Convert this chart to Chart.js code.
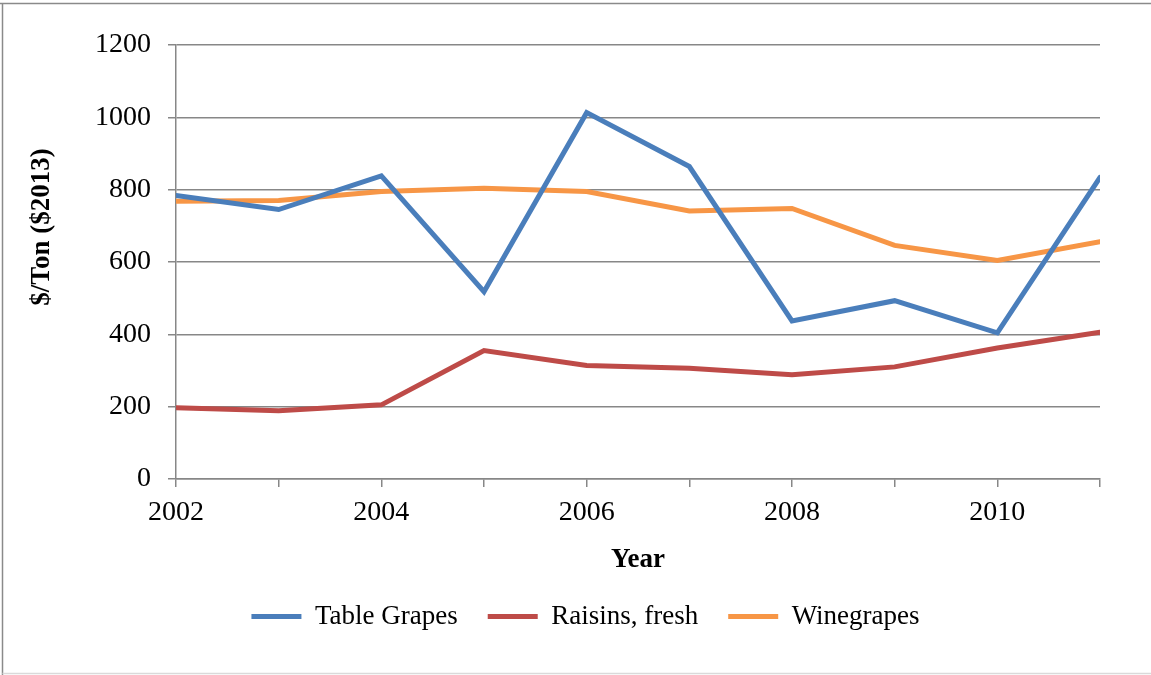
<!DOCTYPE html>
<html>
<head>
<meta charset="utf-8">
<script src="https://cdn.jsdelivr.net/npm/chart.js@4/dist/chart.umd.min.js"></script>
<style>
  html, body { margin: 0; padding: 0; background: #ffffff; }
  #wrap { width: 1151px; height: 675px; position: relative; }
</style>
</head>
<body>
<div id="wrap"><canvas id="c" width="1151" height="675"></canvas></div>
<script>
const years = [2002, 2003, 2004, 2005, 2006, 2007, 2008, 2009, 2010, 2011];
const tableGrapes = [784, 745, 838, 518, 1013, 864, 437, 493, 404, 834];
const raisinsFresh = [197, 189, 205, 355, 314, 306, 288, 310, 362, 406];
const winegrapes = [768, 770, 795, 804, 795, 741, 748, 646, 604, 656];
const seriesNames = ['Table Grapes', 'Raisins, fresh', 'Winegrapes'];
const yTicks = [0, 200, 400, 600, 800, 1000, 1200];
const xLabelYears = [2002, 2004, 2006, 2008, 2010];
const xTitle = 'Year';
const yTitle = '$/Ton ($2013)';

const colors = ['#4A7EBB', '#BE4B48', '#F79646'];
const gridGray = '#878787';
const serif = '"Liberation Serif", "DejaVu Serif", serif';

function pts(vals) { return years.map((y, i) => ({ x: y, y: vals[i] })); }

const framePlugin = {
  id: 'frame',
  beforeDraw(chart) {
    const ctx = chart.ctx;
    ctx.save();
    ctx.fillStyle = '#ffffff';
    ctx.fillRect(0, 0, chart.width, chart.height);
    ctx.lineWidth = 1.5;
    ctx.strokeStyle = '#8a8a8a';
    ctx.beginPath();
    ctx.moveTo(0, 3.5); ctx.lineTo(chart.width, 3.5);
    ctx.moveTo(2.5, 3.5); ctx.lineTo(2.5, chart.height);
    ctx.stroke();
    ctx.strokeStyle = '#dadada';
    ctx.beginPath();
    ctx.moveTo(2.5, 673.5); ctx.lineTo(chart.width, 673.5);
    ctx.stroke();
    ctx.restore();
  },
  afterDraw(chart) {
    const ctx = chart.ctx;
    ctx.save();
    ctx.translate(42, 227);
    ctx.rotate(-Math.PI / 2);
    ctx.font = 'bold 27px ' + serif;
    ctx.fillStyle = '#000000';
    ctx.textAlign = 'center';
    ctx.textBaseline = 'middle';
    ctx.fillText(yTitle, 0, 0);
    ctx.restore();
  }
};

new Chart(document.getElementById('c'), {
  type: 'line',
  data: {
    datasets: [
      { label: seriesNames[0], data: pts(tableGrapes), borderColor: colors[0], backgroundColor: colors[0] },
      { label: seriesNames[1], data: pts(raisinsFresh), borderColor: colors[1], backgroundColor: colors[1] },
      { label: seriesNames[2], data: pts(winegrapes), borderColor: colors[2], backgroundColor: colors[2] }
    ].map(d => Object.assign(d, { borderWidth: 5, pointRadius: 0, pointHoverRadius: 0, tension: 0, fill: false, borderCapStyle: 'round', borderJoinStyle: 'miter' }))
  },
  options: {
    responsive: false,
    animation: false,
    devicePixelRatio: 1,
    layout: { padding: { left: 71, right: 51, top: 45, bottom: 35 } },
    plugins: {
      legend: {
        position: 'bottom',
        labels: {
          font: { family: serif, size: 27 },
          color: '#000000',
          usePointStyle: true,
          pointStyle: 'line',
          pointStyleWidth: 50,
          boxHeight: 20,
          padding: 30
        }
      },
      tooltip: { enabled: false }
    },
    scales: {
      x: {
        type: 'linear',
        min: years[0],
        max: years[years.length - 1],
        afterBuildTicks(scale) { scale.ticks = years.map(v => ({ value: v })); },
        afterFit(scale) { scale.height = 94; },
        ticks: {
          autoSkip: false,
          maxRotation: 0,
          padding: 9,
          color: '#000000',
          font: { family: serif, size: 28 },
          callback: v => (xLabelYears.includes(v) ? String(v) : '')
        },
        grid: { drawOnChartArea: false, drawTicks: true, tickLength: 8, color: gridGray, lineWidth: 1.5 },
        border: { display: true, color: gridGray, width: 1.5 },
        title: { display: true, text: xTitle, color: '#000000', font: { family: serif, size: 27, weight: 'bold' }, padding: { top: 0, bottom: -3 } }
      },
      y: {
        min: 0,
        max: 1200,
        afterBuildTicks(scale) { scale.ticks = yTicks.map(v => ({ value: v })); },
        afterFit(scale) { scale.width = 105; },
        ticks: { padding: 17, color: '#000000', font: { family: serif, size: 28 }, callback: v => String(v) },
        grid: { color: gridGray, lineWidth: 1.5, tickLength: 8, drawTicks: true },
        border: { display: true, color: gridGray, width: 1.5 }
      }
    }
  },
  plugins: [framePlugin]
});
</script>
</body>
</html>
